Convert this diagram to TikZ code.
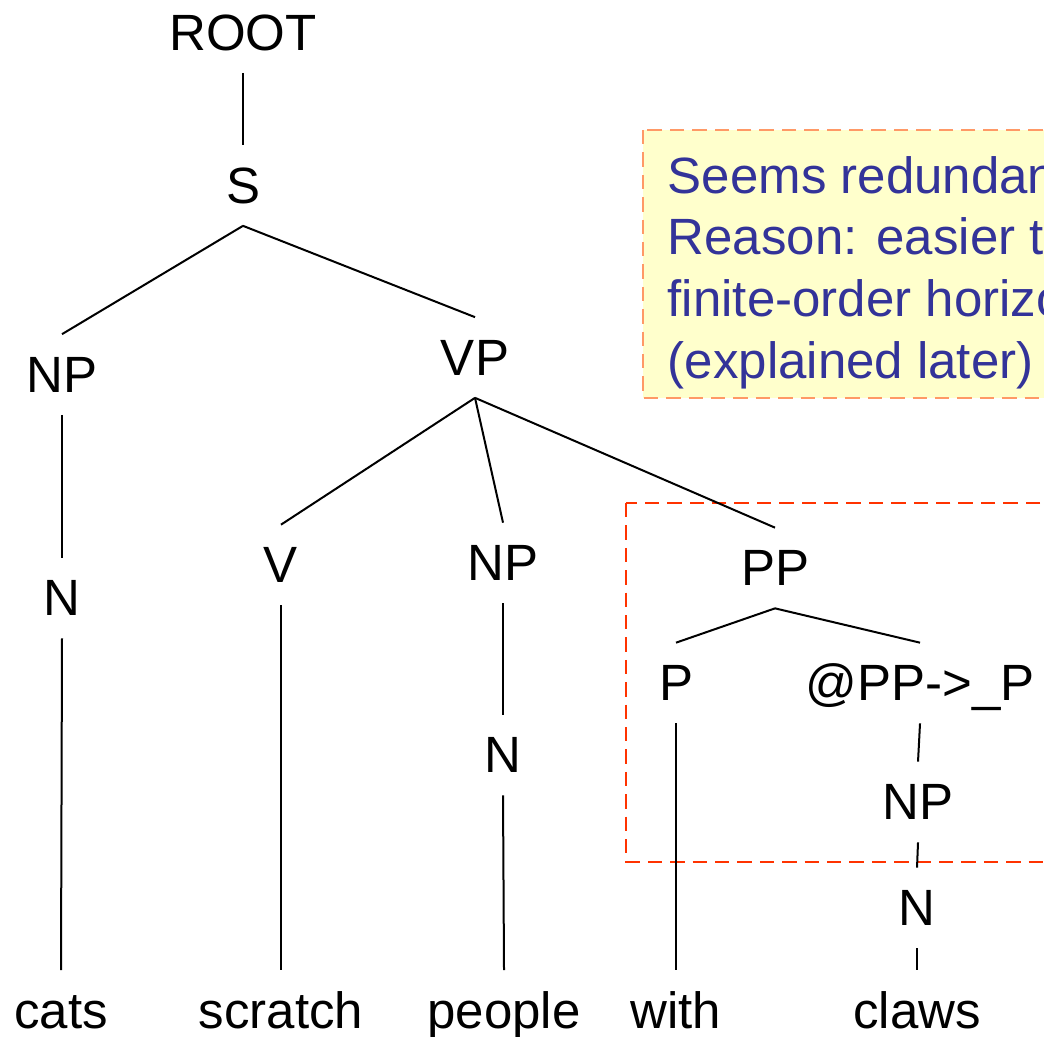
\documentclass[tikz,border=0pt]{standalone}
\usepackage{fontspec}
\setmainfont{Liberation Sans}
\definecolor{notetext}{HTML}{333399}
\definecolor{notefill}{HTML}{FFFFCC}
\definecolor{noteline}{HTML}{FF9966}
\definecolor{frameline}{HTML}{FF3300}

\begin{document}
\begin{tikzpicture}[x=0.25pt, y=-0.25pt, font=\fontsize{12.75}{15.4}\selectfont,
    cat/.style={inner xsep=0pt, inner ysep=5.5pt, text height=8.77pt, text depth=0pt},
    branch/.style={line width=0.5pt},
    dashbox/.style={line width=0.6pt, dash pattern=on 3.6pt off 2pt}]
  \useasboundingbox (0,0) rectangle (1044,1036);
  \clip (0,0) rectangle (1044,1036);
  % the note: yellow box, dashed orange rim, blue text
  \draw[dashbox, noteline, fill=notefill] (643,130) rectangle (1090,398);
  \node[anchor=north west, inner sep=0pt, align=left, text=notetext] (note) at (667,155.5)
    {Seems redundant\\Reason: easier to\\finite-order horizontal\\(explained later)};
  % red frame round the binarized PP
  \draw[dashbox, frameline] (626,503) rectangle (1090,862);
  % categories
  \node[cat] (root) at (243,32.5) {ROOT};
  \node[cat] (s)    at (243,185.5) {S};
  \node[cat] (np1)  at (62,374.5) {NP};
  \node[cat] (vp)   at (475,357.5) {VP};
  \node[cat] (n1)   at (62,598) {N};
  \node[cat] (v)    at (281,565) {V};
  \node[cat] (np2)  at (503,563) {NP};
  \node[cat] (pp)   at (775,568) {PP};
  \node[cat] (p)    at (676,683) {P};
  \node[cat] (ppb)  at (920,683) {@PP->\_P};
  \node[cat] (n2)   at (503,755) {N};
  \node[cat] (np3)  at (918,802) {NP};
  \node[cat] (n3)   at (917,908) {N};
  % words
  \node[cat] (w1) at (61,1010.5) {cats};
  \node[cat] (w2) at (281,1010.5) {scratch};
  \node[cat] (w3) at (504,1010.5) {people};
  \node[cat] (w4) at (676,1010.5) {with};
  \node[cat] (w5) at (917,1010.5) {claws};
  % branches, parent to child
  \foreach \a/\b in {root/s, s/np1, s/vp, np1/n1, vp/v, vp/np2, vp/pp,
                     pp/p, pp/ppb, np2/n2, ppb/np3, np3/n3,
                     n1/w1, v/w2, n2/w3, p/w4, n3/w5}
    \draw[branch] (\a.south) -- (\b.north);
\end{tikzpicture}
\end{document}
